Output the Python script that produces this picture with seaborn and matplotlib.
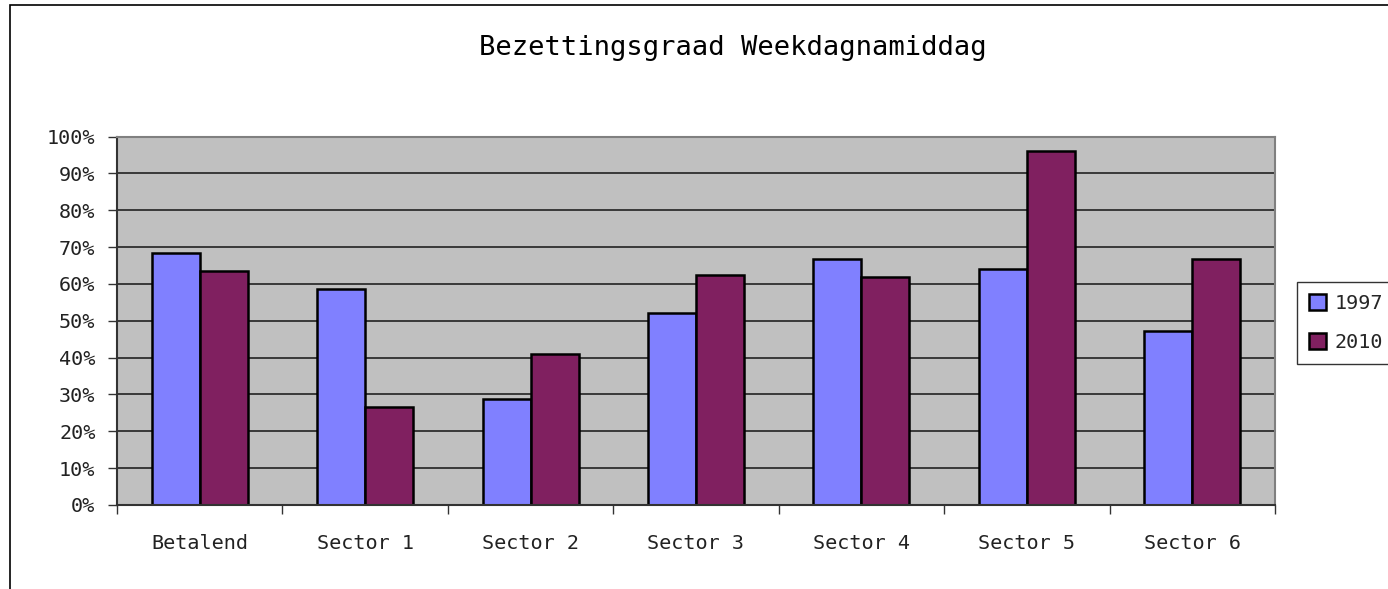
import pandas as pd
import matplotlib.pyplot as plt
import seaborn as sns
from matplotlib.patches import Rectangle
from matplotlib.ticker import PercentFormatter, FixedLocator

# Data
# ====
categories = ["Betalend", "Sector 1", "Sector 2", "Sector 3", "Sector 4", "Sector 5", "Sector 6"]
years = ["1997", "2010"]
vals_1997 = [68.4, 58.5, 28.8, 52.1, 66.8, 64.0, 47.2]
vals_2010 = [63.5, 26.7, 41.1, 62.4, 61.9, 96.1, 66.8]

df = pd.DataFrame({
    "categorie": categories * 2,
    "jaar": [years[0]] * len(categories) + [years[1]] * len(categories),
    "bezetting": vals_1997 + vals_2010,
})

colors = {"1997": "#8080FF", "2010": "#802060"}

sns.set_style("white")
plt.rcParams["font.family"] = ["DejaVu Sans Mono"]

fig = plt.figure(figsize=(13.88, 5.89), dpi=100)
ax = fig.add_axes([117 / 1388, 1 - 505 / 589, (1275 - 117) / 1388, (505 - 136.5) / 589])

# rand om de hele grafiek
fig.patches.append(Rectangle((10 / 1388, -0.1), 1.2, 1 - 5 / 589 + 0.1, transform=fig.transFigure,
                             fill=False, edgecolor="black", linewidth=1.2))

ax.set_facecolor("#C0C0C0")
sns.barplot(data=df, x="categorie", y="bezetting", hue="jaar", palette=colors,
            width=0.58, edgecolor="black", linewidth=1.8, saturation=1, ax=ax)

ax.set_ylim(0, 100)
ax.set_xlim(-0.5, len(categories) - 0.5)
ax.yaxis.set_major_locator(FixedLocator(range(0, 101, 10)))
ax.yaxis.set_major_formatter(PercentFormatter(decimals=0))
ax.grid(axis="y", color="#222222", linewidth=1.2)
ax.set_axisbelow(True)

# streepjes tussen de categorieen, labels in het midden
ax.set_xticks([i - 0.5 for i in range(len(categories) + 1)], minor=True)
ax.tick_params(axis="x", which="both", bottom=True)
ax.tick_params(axis="x", which="major", length=0, pad=21, labelsize=14.5, labelcolor="#222222")
ax.tick_params(axis="x", which="minor", length=6.5, width=1, color="#333333", direction="out")
ax.tick_params(axis="y", left=True, length=6.5, width=1, color="#333333", direction="out",
               pad=9, labelsize=14.5, labelcolor="#222222")

for side in ["top", "right"]:
    ax.spines[side].set_color("#808080")
    ax.spines[side].set_linewidth(1.5)
for side in ["left", "bottom"]:
    ax.spines[side].set_color("#333333")
    ax.spines[side].set_linewidth(1.5)

ax.set_xlabel("")
ax.set_ylabel("")

fig.text(733 / 1388, 1 - 48 / 589, "Bezettingsgraad Weekdagnamiddag", ha="center", va="center",
         fontsize=19.5, color="black")

leg = ax.legend(loc="upper left", bbox_to_anchor=(1297 / 1388, 1 - 282 / 589), bbox_transform=fig.transFigure,
                frameon=True, fancybox=False, edgecolor="black", fontsize=14.5,
                handlelength=0.85, handleheight=0.85, handletextpad=0.4, borderpad=0.6,
                borderaxespad=0, labelspacing=1.0, title=None)
leg.get_frame().set_linewidth(1.0)

fig.savefig("out.png", dpi=100, facecolor="white")
